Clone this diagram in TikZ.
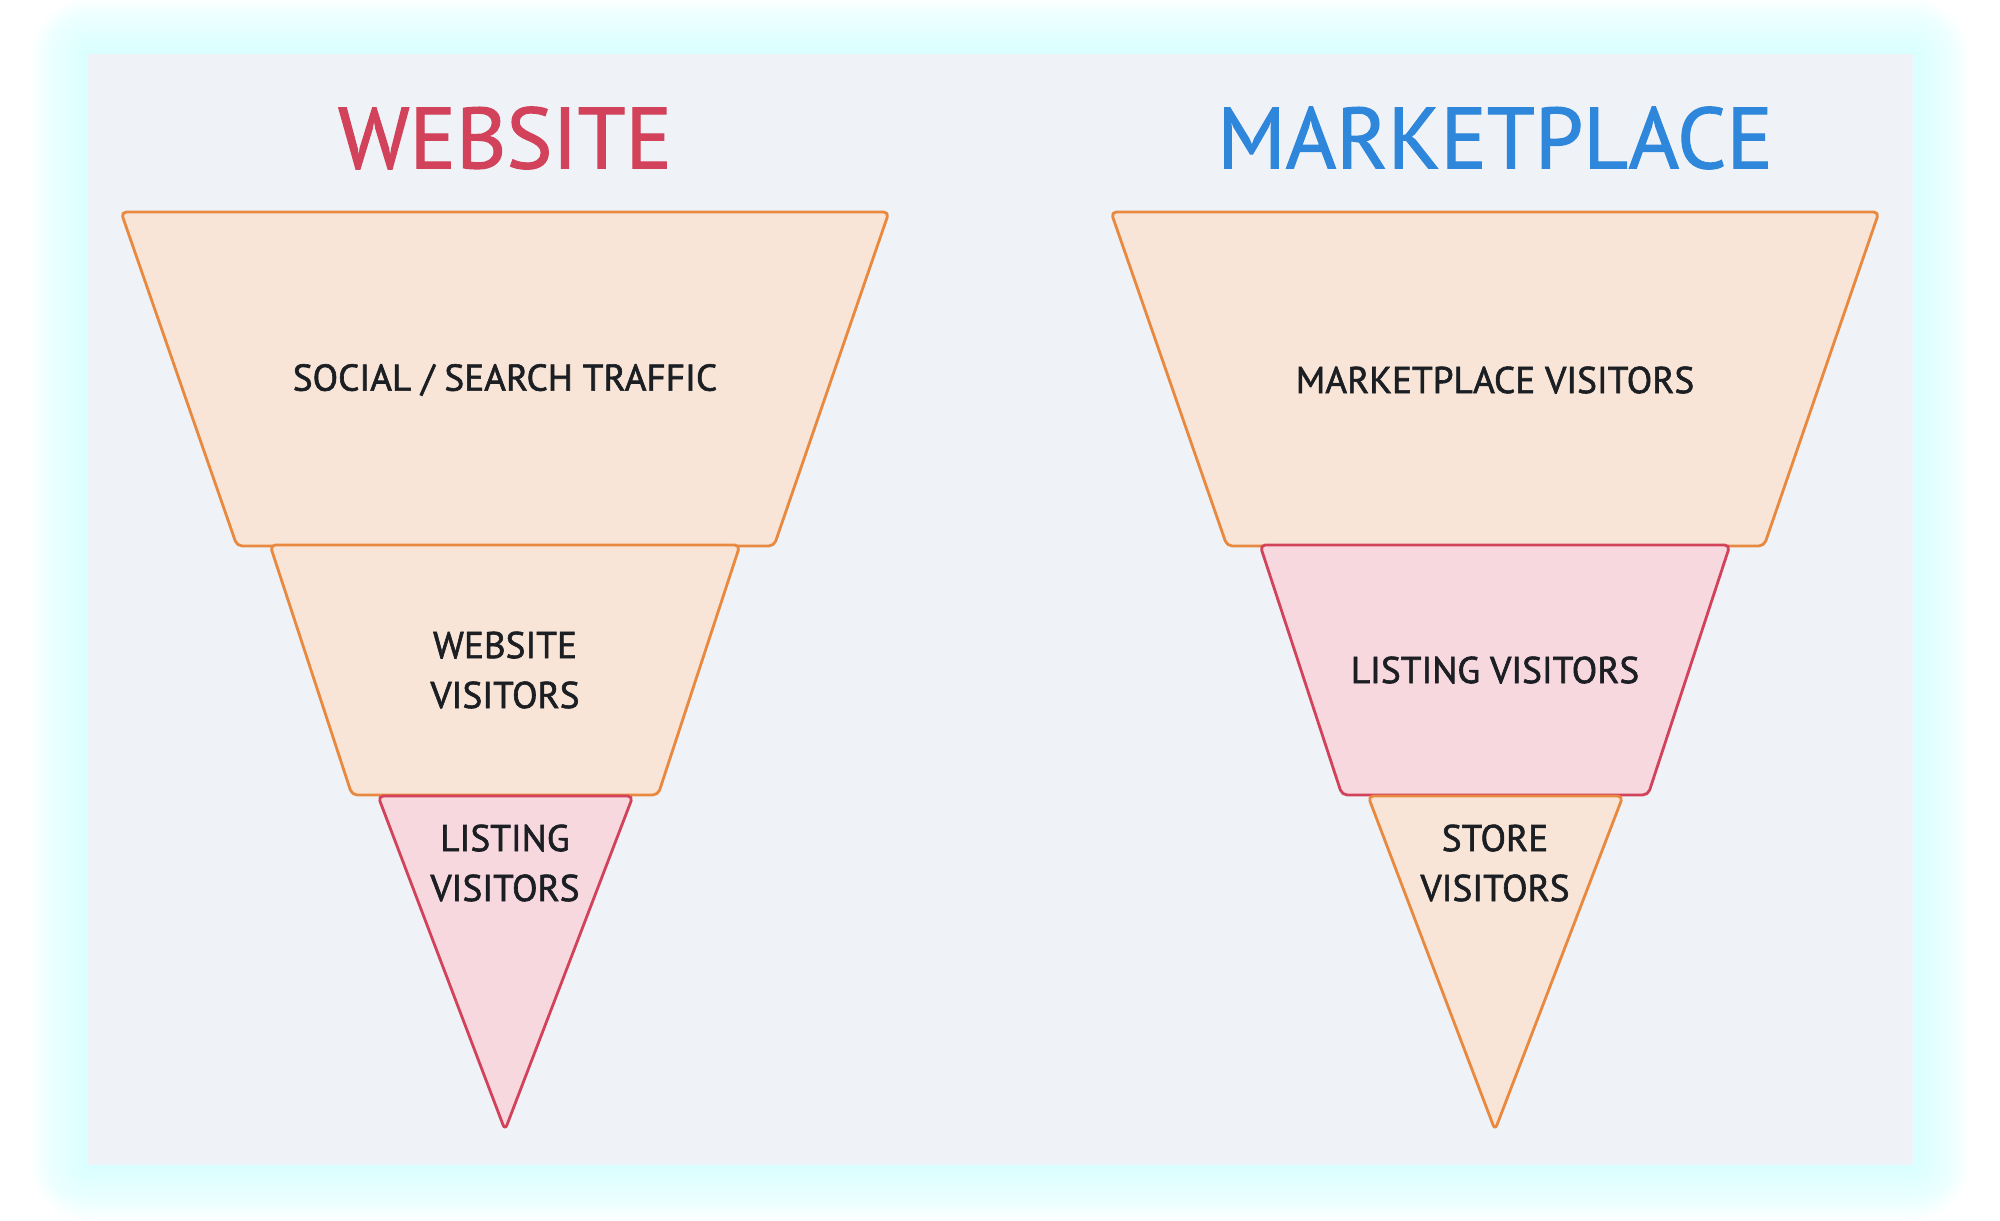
\documentclass[tikz,border=0pt]{standalone}
\usepackage{fontspec}
\setmainfont{PT Sans}
\newfontfamily\lblfont{PT Sans}[FakeBold=1.6]
\newfontfamily\ttlfont{PT Sans}[FakeBold=1.3]
\definecolor{panelbg}{HTML}{EFF3F7}
\definecolor{glow}{HTML}{C4FFFF}
\definecolor{ofill}{HTML}{F8E5D7}
\definecolor{oline}{HTML}{E8893F}
\definecolor{pfill}{HTML}{F7D8DF}
\definecolor{pline}{HTML}{D2435B}
\definecolor{tred}{HTML}{D2435B}
\definecolor{tblue}{HTML}{2F87DB}
\definecolor{ink}{HTML}{1B1E22}
\tikzset{
  oseg/.style={fill=ofill, draw=oline, line width=0.8pt, rounded corners=1.5pt, line join=round},
  pseg/.style={fill=pfill, draw=pline, line width=0.8pt, rounded corners=1.5pt, line join=round},
  lbl/.style={text=ink, font=\lblfont\fontsize{10.6}{14.2}\selectfont, align=center, inner sep=0pt},
  ttl/.style={font=\ttlfont\fontsize{24.6}{30}\selectfont, inner sep=0pt}
}
\begin{document}
\begin{tikzpicture}[x=0.01cm,y=-0.01cm]
\useasboundingbox (0,0) rectangle (2000,1220);
\fill[white] (0,0) rectangle (2000,1220);
\foreach \d in {56,54,...,2}
  \fill[glow, opacity=0.024, rounded corners=\d*0.3pt] (87-\d,54-\d) rectangle (1913+\d,1165+\d);
\fill[panelbg] (87,54) rectangle (1913,1165);

% titles
\node[ttl, text=tred] (t1) at (505,138) {WEBSITE};
\node[ttl, text=tblue] (t2) at (1495,138) {MARKETPLACE};

% left funnel
\draw[oseg] (121,212) -- (889,212) -- (774,546) -- (237,546) -- cycle;
\draw[oseg] (270,545) -- (740,545) -- (658,795) -- (352,795) -- cycle;
\draw[pseg] (378,796) -- (633,796) -- (505,1130) -- cycle;

% right funnel
\draw[oseg] (1111,212) -- (1879,212) -- (1764,546) -- (1227,546) -- cycle;
\draw[pseg] (1260,545) -- (1730,545) -- (1648,795) -- (1342,795) -- cycle;
\draw[oseg] (1368,796) -- (1623,796) -- (1495,1130) -- cycle;

% labels
\node[lbl] (l1) at (505,380) {SOCIAL / SEARCH TRAFFIC};
\node[lbl] (l2) at (505,670) {WEBSITE\\VISITORS};
\node[lbl] (l3) at (505,863) {LISTING\\VISITORS};
\node[lbl] (r1) at (1495,380) {MARKETPLACE VISITORS};
\node[lbl] (r2) at (1495,670) {LISTING VISITORS};
\node[lbl] (r3) at (1495,863) {STORE\\VISITORS};
\end{tikzpicture}
\end{document}
